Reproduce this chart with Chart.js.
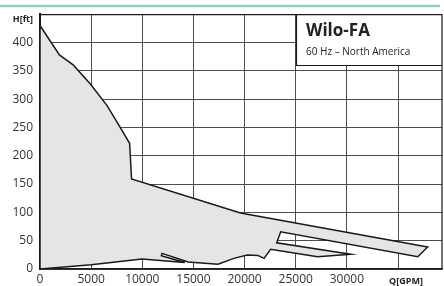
<!DOCTYPE html>
<html>
<head>
<meta charset="utf-8">
<script src="https://cdn.jsdelivr.net/npm/chart.js@4.4.1/dist/chart.umd.min.js"></script>
<style>
html, body { margin: 0; padding: 0; background: #fff; }
#wrap { width: 444px; height: 286px; }
</style>
</head>
<body>
<div id="wrap"><canvas id="myChart"></canvas></div>
<script>
// field outline, walked clockwise from the top left corner
var flowGpm = [0, 1900, 3270, 4900, 6540, 7840, 8760, 8950, 19600, 37900, 36930, 23530, 23140,
    30390, 27130, 22550, 21900, 21300, 20260, 18950, 17400, 14480, 11930, 11860, 14150, 9970, 5000, 0, 0]
var headFt = [430, 378, 360, 327, 289, 250, 222, 159, 99, 39, 21.7, 65.7, 46.3,
    25.9, 21.7, 34.7, 18.8, 24, 24.6, 18.8, 8.3, 12.3, 27.6, 23.4, 11.5, 17.6, 7.5, 0, 430]

var xTicks = [0, 5000, 10000, 15000, 20000, 25000, 30000, 35000]
var yTicks = [0, 50, 100, 150, 200, 250, 300, 350, 400, 450]
var xLabels = ['0', '5000', '10000', '15000', '20000', '25000', '30000', '']
var yLabels = ['0', '50', '100', '150', '200', '250', '300', '350', '400', '']

var titleText = 'Wilo-FA'
var subText = '60 Hz \u2013 North America'
var xName = 'Q[GPM]'
var yName = 'H[ft]'

var points = []
for (var i = 0; i < flowGpm.length; i++) {
    points.push({ x: flowGpm[i], y: headFt[i] })
}

var font = "'Open Sans', sans-serif"

var decor = {
    id: 'decor',
    beforeDraw: function (chart) {
        var c = chart.ctx
        c.save()
        c.fillStyle = '#fff'
        c.fillRect(0, 0, chart.width, chart.height)
        c.strokeStyle = '#8fd0c5'
        c.lineWidth = 2.5
        c.beginPath()
        c.moveTo(0, 6)
        c.lineTo(440, 6)
        c.stroke()
        c.restore()
    },
    afterDraw: function (chart) {
        var c = chart.ctx
        var a = chart.chartArea
        var xs = chart.scales.x
        var ys = chart.scales.y
        c.save()
        // legend box
        var bx = Math.round(xs.getPixelForValue(25000)) + 0.5
        var by = Math.round(ys.getPixelForValue(360)) + 0.5
        c.fillStyle = '#fff'
        c.fillRect(bx, a.top, a.right - bx, by - a.top)
        c.strokeStyle = '#1a1a1a'
        c.lineWidth = 1.2
        c.beginPath()
        c.moveTo(bx, a.top)
        c.lineTo(bx, by)
        c.lineTo(a.right, by)
        c.stroke()
        // frame top / right
        c.beginPath()
        c.moveTo(a.left, a.top + 0.5)
        c.lineTo(a.right, a.top + 0.5)
        c.lineTo(a.right, a.bottom)
        c.stroke()

        c.fillStyle = '#222'
        c.textBaseline = 'alphabetic'
        c.textAlign = 'left'
        c.font = 'bold 17px ' + font
        c.fillText(titleText, 306, 35.5)
        c.font = '10px ' + font
        c.fillText(subText, 306, 55)

        c.font = 'bold 9px ' + font
        c.textBaseline = 'middle'
        c.textAlign = 'right'
        c.fillText(yName, 33, 19)
        c.textAlign = 'center'
        c.fillText(xName, 406, 281)
        c.restore()
    }
}

new Chart(document.getElementById('myChart'), {
    type: 'scatter',
    data: {
        datasets: [{
            data: points,
            showLine: true,
            fill: 'shape',
            tension: 0,
            pointRadius: 0,
            borderColor: '#1a1a1a',
            borderWidth: 1.5,
            backgroundColor: '#e4e5e7'
        }]
    },
    options: {
        responsive: true,
        maintainAspectRatio: false,
        animation: false,
        layout: { padding: { top: 13, right: 2, left: 0, bottom: 0 } },
        plugins: { legend: { display: false }, tooltip: { enabled: false } },
        scales: {
            x: {
                type: 'linear',
                min: 0,
                max: 39300,
                afterBuildTicks: function (s) { s.ticks = xTicks.map(function (v) { return { value: v } }) },
                afterFit: function (s) { s.height = 17 },
                ticks: {
                    padding: 3,
                    color: '#333',
                    font: { family: font, size: 12 },
                    maxRotation: 0,
                    autoSkip: false,
                    callback: function (v) { return xLabels[xTicks.indexOf(v)] }
                },
                grid: { color: '#4d4d4d', lineWidth: 1, drawTicks: false },
                border: { color: '#1a1a1a', width: 1.5 }
            },
            y: {
                type: 'linear',
                min: 0,
                max: 450,
                afterBuildTicks: function (s) { s.ticks = yTicks.map(function (v) { return { value: v } }) },
                afterFit: function (s) { s.width = 40 },
                ticks: {
                    padding: 7,
                    color: '#333',
                    font: { family: font, size: 12 },
                    autoSkip: false,
                    callback: function (v) { return yLabels[yTicks.indexOf(v)] }
                },
                grid: { color: '#4d4d4d', lineWidth: 1, drawTicks: false },
                border: { color: '#1a1a1a', width: 2 }
            }
        }
    },
    plugins: [decor]
})
</script>
</body>
</html>
